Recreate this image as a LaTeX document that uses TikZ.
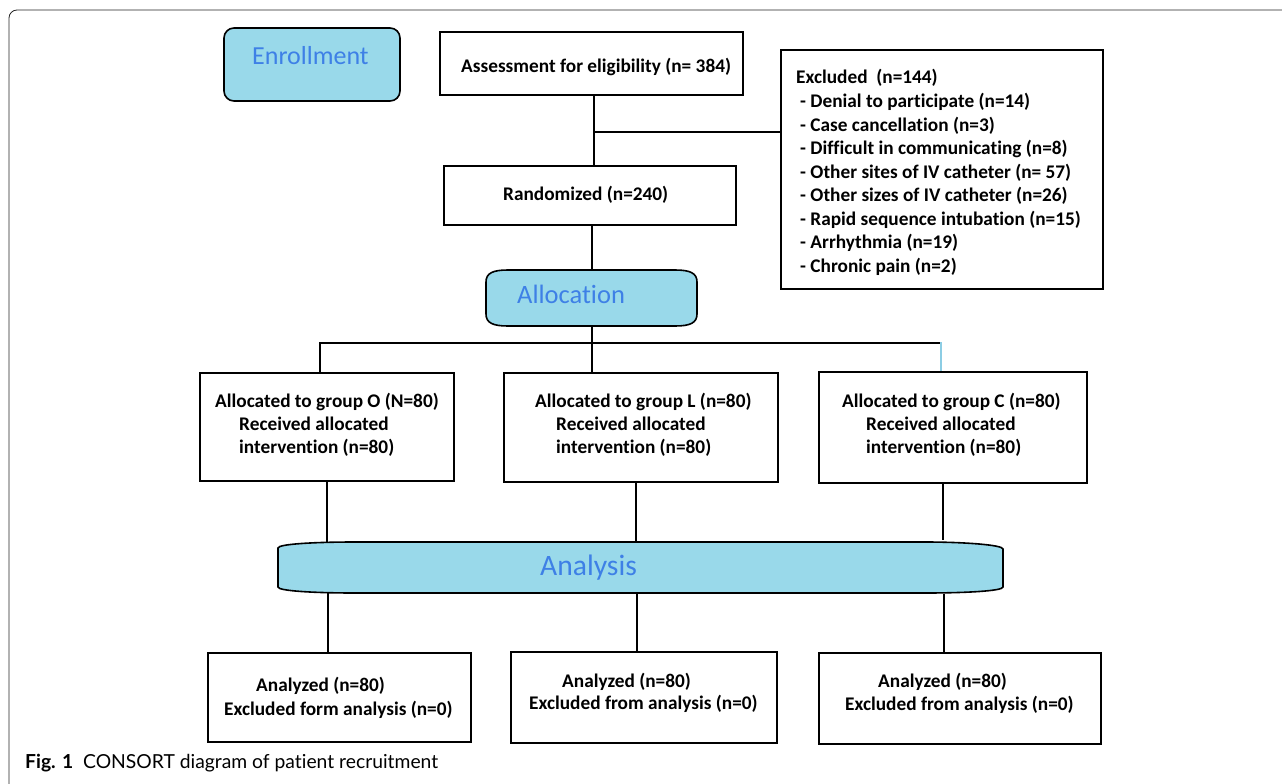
\documentclass[tikz,border=0pt]{standalone}
\usepackage{fontspec}
\setmainfont[Ligatures=NoCommon]{Carlito}
\newfontfamily\capfont[Ligatures=NoCommon]{Lato}
\usetikzlibrary{fit}
\definecolor{fillblue}{RGB}{153,217,234}
\definecolor{txtblue}{RGB}{62,128,230}
\definecolor{lineblue}{RGB}{140,205,228}
\begin{document}
\begin{tikzpicture}[x=1pt,y=-1pt,
  box/.style={draw, line width=1.6pt, inner sep=0pt},
  ghost/.style={inner sep=0pt},
  txt/.style={anchor=base west, inner sep=0pt, font=\bfseries\fontsize{19.3}{22}\selectfont},
  head/.style={anchor=base west, inner sep=0pt, text=txtblue},
  conn/.style={line width=1.6pt},
  bluefill/.style={line width=1.6pt, fill=fillblue}]
\useasboundingbox (0,0) rectangle (1282,784);
% outer frame
\draw[line width=0.8pt, black!85, rounded corners=8pt] (9,790) -- (9,10) -- (1290,10);

% Enrollment
\node[box, rounded corners=10pt, fill=fillblue, fit={(224,28) (400,101)}] (enr) {};
\node[head, font=\fontsize{26}{30}\selectfont] (enrt) at (252,64) {Enrollment};

% Assessment
\node[box, fit={(440,32) (743,95)}] (assess) {};
\node[txt] (assesst) at (461,72) {Assessment for eligibility (n= 384)};

% Excluded
\node[box, fit={(781,50) (1103,289)}] (excl) {};
\node[txt] (ex0) at (796,84) {Excluded\ \ (n=144)};
\foreach \t [count=\i] in {Denial to participate (n=14), Case cancellation (n=3), Difficult in communicating (n=8), Other sites of IV catheter (n= 57), Other sizes of IV catheter (n=26), Rapid sequence intubation (n=15), Arrhythmia (n=19), Chronic pain (n=2)}
  \node[txt] (ex\i) at (800,{84+23.5*\i}) {- \t};

% Randomized
\node[box, fit={(444,166) (736,225)}] (rand) {};
\node[txt] (randt) at (503,200) {Randomized (n=240)};

% Allocation
\node[ghost, fit={(486,270) (697,326)}] (alloc) {};
\draw[bluefill] (508,270) -- (675,270) .. controls (690,270) and (697,273) .. (697,282) -- (697,314)
  .. controls (697,323) and (690,326) .. (675,326) -- (508,326) .. controls (493,326) and (486,323) .. (486,314)
  -- (486,282) .. controls (486,273) and (493,270) .. (508,270) -- cycle;
\node[head, font=\fontsize{26.5}{30}\selectfont] (alloct) at (517,303) {Allocation};

% groups
\node[box, fit={(200,373) (454,481)}] (grpO) {};
\node[txt] (o1) at (215,407) {Allocated to group O (N=80)};
\node[txt] (o2) at (239,430) {Received allocated};
\node[txt] (o3) at (239,453) {intervention (n=80)};

\node[box, fit={(504,373) (778,482)}] (grpL) {};
\node[txt] (l1) at (535,407) {Allocated to group L (n=80)};
\node[txt] (l2) at (556,430) {Received allocated};
\node[txt] (l3) at (556,453) {intervention (n=80)};

\node[box, fit={(819,372) (1087,483)}] (grpC) {};
\node[txt] (c1) at (842,407) {Allocated to group C (n=80)};
\node[txt] (c2) at (866,430) {Received allocated};
\node[txt] (c3) at (866,453) {intervention (n=80)};

% Analysis
\node[ghost, fit={(278,542) (1003,593)}] (anal) {};
\draw[bluefill] (355,542) -- (925,542) .. controls (965,542) and (1003,545) .. (1003,549) -- (1003,587)
  .. controls (1003,591) and (965,593) .. (925,593) -- (355,593) .. controls (315,593) and (278,591) .. (278,587)
  -- (278,548) .. controls (278,544) and (315,542) .. (355,542) -- cycle;
\node[head, font=\fontsize{29.6}{34}\selectfont] (analt) at (540,575) {Analysis};

% bottom boxes
\node[box, fit={(208,653) (471,742)}] (botO) {};
\node[txt] (bo1) at (256,691) {Analyzed (n=80)};
\node[txt] (bo2) at (224,715) {Excluded form analysis (n=0)};

\node[box, fit={(511,652) (777,743)}] (botL) {};
\node[txt] (bl1) at (562,687) {Analyzed (n=80)};
\node[txt] (bl2) at (529,709) {Excluded from analysis (n=0)};

\node[box, fit={(819,653) (1101,744)}] (botC) {};
\node[txt] (bc1) at (878,687) {Analyzed (n=80)};
\node[txt] (bc2) at (845,710) {Excluded from analysis (n=0)};

% connectors
\coordinate (v1) at (594,0);
\coordinate (br) at (594,132);
\coordinate (v2) at (592,0);
\coordinate (split) at (592,343);
\coordinate (hl) at (320,343);
\coordinate (hr) at (941,343);
\coordinate (dO) at (327,0);
\coordinate (dL) at (636,0);
\coordinate (dC) at (943,0);
\coordinate (eO) at (328,0);
\coordinate (eL) at (637,0);
\coordinate (eC) at (944,0);
\draw[conn] (assess.south -| v1) -- (rand.north -| v1);
\draw[conn] (br) -- (br -| excl.west);
\draw[conn] (rand.south -| v2) -- (alloc.north -| v2);
\draw[conn] (alloc.south -| v2) -- (split);
\draw[conn] ([xshift=-0.8pt]hl) -- ([xshift=0.8pt]hr);
\draw[conn] (hl) -- (hl |- grpO.north);
\draw[conn] (split) -- (split |- grpL.north);
\draw[conn, lineblue] ([yshift=1pt]hr) -- (hr |- grpC.north);
\draw[conn] (grpO.south -| dO) -- (anal.north -| dO);
\draw[conn] (grpL.south -| dL) -- (anal.north -| dL);
\draw[conn] (grpC.south -| dC) -- ([yshift=2pt]anal.north -| dC);
\draw[conn] (anal.south -| eO) -- (botO.north -| eO);
\draw[conn] (anal.south -| eL) -- (botL.north -| eL);
\draw[conn] ([yshift=-0.5pt]anal.south -| eC) -- (botC.north -| eC);

% caption
\node[anchor=base west, inner sep=0pt, font=\capfont\fontsize{19.3}{22}\selectfont] (cap) at (25,768) {\textbf{Fig. 1}\ \ CONSORT diagram of patient recruitment};
\end{tikzpicture}
\end{document}
